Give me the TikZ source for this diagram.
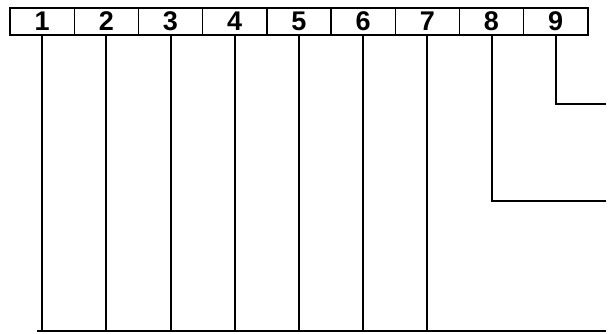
\documentclass[tikz,border=0pt]{standalone}
\usepackage{fontspec}
\setmainfont{Liberation Sans}
\begin{document}
\begin{tikzpicture}[x=1pt,y=-1pt,
  cell/.style={draw, line width=1.4pt, minimum width=64.2pt, minimum height=27pt,
    inner sep=0pt, font=\fontsize{27}{27}\selectfont\bfseries},
  link/.style={line width=2pt}]
\useasboundingbox (0,0) rectangle (610,333);
\foreach \i in {1,...,9}
  \node[cell] (c\i) at ({42.1+64.2*(\i-1)},21.5) {\i};
\coordinate (bl) at (37,331);
\coordinate (br) at (606,331);
\coordinate (e8) at (606,201);
\coordinate (e9) at (606,104);
\draw[link] (bl) -- (br);
\foreach \i in {1,...,7}
  \draw[link] (c\i.south) -- (c\i.south |- bl);
\draw[link] (c8.south) |- (e8);
\draw[link] (c9.south) |- (e9);
\end{tikzpicture}
\end{document}
